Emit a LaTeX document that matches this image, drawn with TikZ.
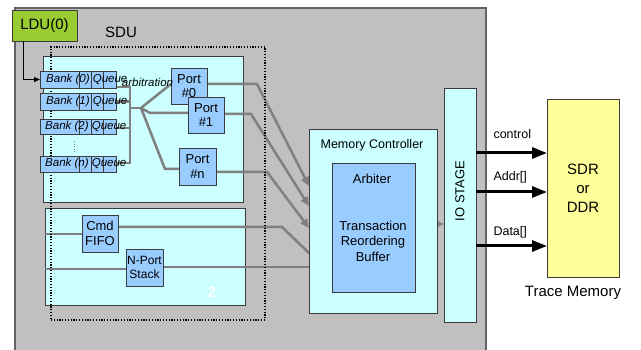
\documentclass[tikz,border=0pt]{standalone}
\usepackage{fontspec}
\setmainfont{Liberation Sans}
\usetikzlibrary{arrows.meta}
\definecolor{sdugray}{HTML}{C0C0C0}
\definecolor{cyanfill}{HTML}{CCFFFF}
\definecolor{bluefill}{HTML}{99CCFF}
\definecolor{ldugreen}{HTML}{99CC33}
\definecolor{memyellow}{HTML}{FFFF99}
\definecolor{wirec}{HTML}{808080}
\definecolor{edgec}{HTML}{3C3C3C}
\pgfdeclarelayer{bg}
\pgfdeclarelayer{mid}
\pgfsetlayers{bg,mid,main}
\begin{document}
\begin{tikzpicture}[x=1pt,y=-1pt,
  box/.style={draw=edgec, line width=0.8pt, inner sep=0pt, outer sep=0pt, rectangle},
  sz/.style 2 args={minimum width=#1pt, minimum height=#2pt},
  cyanbox/.style={box, fill=cyanfill},
  bluebox/.style={box, fill=bluefill, align=center, f13},
  bankbox/.style={box, fill=bluefill, sz={76}{16}},
  banklbl/.style={anchor=west, inner sep=0pt, font=\fontsize{11.5}{13}\selectfont\itshape},
  f12/.style={font=\fontsize{12.5}{14}\selectfont},
  f13/.style={font=\fontsize{13}{14.5}\selectfont},
  f15/.style={font=\fontsize{15}{19}\selectfont},
  wire/.style={draw=wirec, line width=2.5pt},
  wirearrow/.style={wire, -{Triangle[length=9pt,width=8pt]}},
  busarrow/.style={draw=black, line width=3pt, -{Triangle[length=15pt,width=11pt]}},
]
\useasboundingbox (0,0) rectangle (641,350);

% SDU enclosure and the two cyan areas
\begin{pgfonlayer}{bg}
  \node[box, fill=sdugray, draw=edgec!80, line width=1.2pt, sz={471}{346}] (sdu) at (250.5,181) {};
  \node[cyanbox, sz={200}{146}] (arbarea) at (143,129) {};
  \node[cyanbox, sz={200}{97}] (cmdarea) at (145,256.5) {};
\end{pgfonlayer}

\node[box, fill=ldugreen, sz={65}{31}, f15] (ldu) at (44.5,25.5) {LDU(0)};
\node[f15] (sdulbl) at (121,32) {SDU};

% bank queues
\node[bankbox, sz={76}{17}] (b0) at (78,79.5) {};
\node[bankbox, sz={76}{17}] (b1) at (78,101.5) {};
\node[bankbox, sz={76}{15}] (b2) at (78,126.5) {};
\node[bankbox] (bn) at (78,164) {};
\foreach \b in {b0,b1,b2,bn}{
  \foreach \dx in {39,51,63}{
    \draw[edgec, line width=0.8pt] ([xshift=\dx pt]\b.north west) -- ([xshift=\dx pt]\b.south west);
  }
}
\node[banklbl] (b0l) at ([xshift=6pt]b0.west) {Bank (0) Queue};
\node[banklbl] (b1l) at ([xshift=6pt]b1.west) {Bank (1) Queue};
\node[banklbl] (b2l) at ([xshift=5pt]b2.west) {Bank (2) Queue};
\node[banklbl] (bnl) at ([xshift=5pt]bn.west) {Bank (n) Queue};
\draw[edgec!70, line width=1pt, dash pattern=on 1pt off 1.6pt] (74,141) -- (74,153);

% ports
\node[bluebox, sz={36}{36}] (p0) at (189,86) {Port\\\#0};
\node[bluebox, sz={36}{36}] (p1) at (206,115) {Port\\\#1};
\node[bluebox, sz={37}{37}] (pn) at (197.5,166.5) {Port\\\#n};

% command FIFO and N-port stack
\node[bluebox, sz={36}{37}] (cmd) at (100,233.5) {Cmd\\FIFO};
\node[bluebox, sz={37}{37}, font=\fontsize{12}{13.5}\selectfont] (nps) at (144.5,267.5) {N-Port\\Stack};

% memory controller
\node[cyanbox, sz={128}{184}] (mc) at (373,221) {};
\node[f12] (mctitle) at (372,145) {Memory Controller};
\node[bluebox, sz={83}{129}] (arb) at (373.5,227.5) {};
\node[f13] (arbttl) at (372,179) {Arbiter};
\node[align=center, font=\fontsize{13}{15.5}\selectfont] (trb) at (373,241) {Transaction\\Reordering\\Buffer};

% IO stage
\node[cyanbox, sz={32}{234}] (io) at (460,205) {};
\node[f13, rotate=90] (iolbl) at (460,191) {IO STAGE};

% trace memory
\node[box, fill=memyellow, sz={72}{178}, align=center, font=\fontsize{15}{19}\selectfont] (mem) at (583,188) {SDR\\or\\DDR};
\node[f15] (memlbl) at (573,293) {Trace Memory};

% internal wiring
\coordinate (bustop) at (130,87);
\coordinate (busbot) at (130,163);
\coordinate (jn) at (141,108);
\begin{pgfonlayer}{mid}
  \draw[wire] (b0.east |- bustop) -- (bustop) -- (busbot) -- (bn.east |- busbot);
  \draw[wire] (b1.east) -- (b1.east -| bustop);
  \draw[wire] (b2.east |- 0,128) -- (bustop |- 0,128);
  \draw[wire] (bustop |- jn) -- (jn);
  \draw[wire] (jn) -- (p0.west |- 0,84);
  \draw[wire] (jn) -- (150,113) -- (p1.west |- 0,113);
  \draw[wire] (jn) -- (165,169) -- (pn.west |- 0,169);
  \draw[wirearrow] (p0.east |- 0,84) -- (257,84) -- (mc.west |- 0,186);
  \draw[wirearrow] (p1.east |- 0,114) -- (251,114) -- (mc.west |- 0,206);
  \draw[wirearrow] (pn.east |- 0,172) -- (267,172) -- (mc.west |- 0,228);
  \draw[wire] (cmd.east |- 0,227) -- (282,227) -- (mc.west |- 0,253);
  \draw[wire] (nps.east |- 0,267) -- (mc.west |- 0,267);
  \draw[wire] (cmdarea.west |- 0,234) -- (cmd.west |- 0,234);
  \draw[wire] (cmdarea.west |- 0,269) -- (nps.west |- 0,269);
  \draw[wirearrow] (arb.east |- 0,224) -- (io.west |- 0,224);
  % SDU boundary
  \node[draw=black, line width=1.2pt, dash pattern=on 1.2pt off 1.6pt, inner sep=0pt, sz={214}{273}] (sdufence) at (158,183.5) {};
\end{pgfonlayer}

\node[inner sep=0pt, font=\fontsize{11.5}{13}\selectfont\itshape] (arbl) at (147.5,82) {arbitration};
\node[white, font=\fontsize{15}{17}\selectfont\bfseries] (two) at (212,292) {2};

% LDU feed into bank 0
\draw[black, line width=0.9pt, -{Triangle[length=6pt,width=5pt]}] (ldu.south -| 23,0) |- (b0.west);

% memory bus
\draw[busarrow] (io.east |- 0,153) -- (mem.west |- 0,153);
\draw[busarrow] (io.east |- 0,192) -- (mem.west |- 0,192);
\draw[busarrow] (io.east |- 0,246) -- (mem.west |- 0,246);
\node[f12, anchor=west] (ctl) at (490,134) {control};
\node[f12, anchor=west] (addr) at (490,177) {Addr[]};
\node[f12, anchor=west] (data) at (490,232) {Data[]};
\end{tikzpicture}
\end{document}
